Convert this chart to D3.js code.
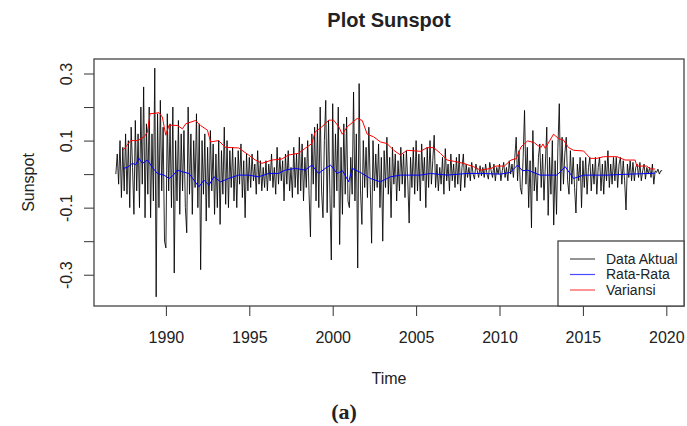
<!DOCTYPE html>
<html><head><meta charset="utf-8">
<script src="https://cdn.jsdelivr.net/npm/d3@7"></script>
<style>body{margin:0;background:#fff}svg{display:block}text{font-family:"Liberation Sans",Arial,sans-serif;fill:#222}</style>
</head><body><svg id="c" width="687" height="426"></svg>
<script>
const startYear = 1987;
const actual = [
0.0,0.06,-0.03,0.1,-0.07,0.08,-0.05,0.12,-0.06,0.1,-0.1,0.14,
0.02,-0.12,0.16,-0.05,0.12,-0.1,0.2,-0.03,0.26,-0.13,0.15,-0.06,
0.2,-0.13,0.12,-0.08,0.316,-0.366,0.18,-0.1,0.22,-0.05,0.14,-0.2,
-0.22,0.18,-0.05,0.15,-0.1,0.2,-0.295,0.1,-0.08,0.16,-0.12,0.12,
-0.05,0.13,-0.1,-0.175,0.2,-0.06,0.12,-0.12,0.1,-0.04,0.18,-0.1,
0.15,-0.285,0.1,-0.06,0.12,-0.14,0.08,-0.1,0.13,-0.05,0.09,-0.12,
0.06,-0.1,0.1,-0.15,0.07,-0.06,0.14,-0.09,0.1,-0.1,0.07,-0.04,
0.08,-0.08,0.05,-0.1,0.07,-0.03,0.09,-0.07,0.04,-0.13,0.06,-0.05,
0.05,-0.04,0.06,-0.02,0.03,-0.06,0.07,-0.03,0.04,-0.05,0.02,-0.04,
0.04,-0.05,0.03,-0.02,0.06,-0.04,0.02,-0.06,0.08,-0.03,0.05,-0.02,
0.04,-0.08,0.06,-0.03,0.07,-0.05,0.02,-0.07,0.08,-0.04,0.06,-0.06,
0.11,-0.05,0.09,-0.08,0.05,-0.04,0.1,-0.06,-0.187,0.12,-0.03,0.14,
-0.08,0.15,-0.1,0.2,-0.05,-0.13,0.1,0.22,-0.115,0.16,-0.06,-0.256,
0.21,-0.1,0.12,-0.05,0.2,-0.21,0.08,-0.12,0.15,-0.06,0.17,-0.08,
-0.1,0.05,-0.06,0.245,-0.08,0.12,-0.28,0.27,-0.05,-0.15,0.1,-0.04,
0.08,-0.07,0.14,-0.03,-0.206,0.1,-0.05,0.06,-0.04,0.09,-0.1,0.05,
-0.2,0.07,-0.04,0.11,-0.06,0.05,-0.13,0.08,-0.03,0.06,-0.08,0.04,
-0.05,0.08,-0.03,0.06,-0.07,0.07,-0.02,-0.146,0.05,-0.04,0.08,-0.06,
0.1,-0.05,0.06,-0.08,0.09,-0.02,0.05,-0.1,0.08,-0.04,0.1,-0.03,
0.04,0.116,-0.04,0.03,-0.05,0.02,-0.03,0.05,-0.06,0.076,-0.02,0.03,
-0.05,0.06,-0.02,0.03,-0.04,0.05,-0.03,0.06,-0.05,0.02,0.06,-0.04,
0.03,-0.01,0.02,-0.02,0.035,0.0,-0.015,0.03,0.01,-0.01,0.025,-0.005,
0.02,-0.01,0.03,0.0,-0.015,0.035,0.01,-0.01,0.03,-0.02,0.02,0.0,
0.03,-0.02,0.01,0.035,-0.01,0.02,-0.02,0.04,0.0,0.03,-0.01,0.05,
0.11,-0.02,0.07,-0.04,-0.06,0.05,0.19,-0.03,0.08,-0.1,0.04,-0.16,
0.13,-0.05,0.02,-0.08,0.05,0.09,-0.04,0.06,-0.078,0.03,0.14,-0.123,
0.05,-0.06,0.1,-0.152,0.04,-0.12,0.08,0.21,-0.05,0.11,-0.03,0.06,
0.11,-0.02,-0.06,0.07,-0.03,0.05,-0.04,-0.116,0.03,-0.02,0.05,-0.1,
0.04,-0.04,0.05,-0.06,0.02,0.05,-0.05,0.03,-0.03,0.05,-0.06,0.02,
0.05,-0.05,0.03,-0.06,0.04,-0.02,0.07,-0.04,0.03,-0.03,0.05,-0.02,
0.05,-0.04,0.03,0.05,-0.03,0.04,-0.02,-0.107,0.03,-0.01,0.04,-0.02,
0.035,-0.02,0.02,0.03,-0.01,0.035,-0.02,0.01,0.03,-0.015,0.02,0.0,
0.02,-0.01,0.03,-0.03,0.01,0.005,0.015,0.0,0.01,0.01
];
// Rata-Rata (mean) : [time, value]
const meanTimes = [1987.43,1987.69,1987.99,1988.19,1988.39,1988.59,1988.89,1989.19,1989.49,1989.89,1990.19,1990.41,1990.69,1990.99,1991.38,1991.68,1991.98,1992.28,1992.58,1992.88,1993.28,1993.76,1994.36,1994.96,1995.56,1996.16,1996.75,1997.16,1997.75,1998.35,1998.75,1999.15,1999.55,1999.87,2000.27,2000.59,2000.96,2001.17,2001.66,2002.26,2002.86,2003.46,2004.06,2005.26,2005.86,2006.86,2008.05,2008.85,2010.05,2010.65,2011.08,2011.37,2011.68,2012.44,2013.44,2013.94,2014.44,2015.04,2016.44,2017.83,2019.03,2019.33];
const meanValues = [0.017,0.02,0.032,0.028,0.047,0.032,0.042,0.02,0.002,-0.003,-0.013,-0.005,0.012,0.007,0.002,-0.018,-0.038,-0.018,-0.033,-0.008,-0.023,-0.013,-0.003,-0.003,-0.008,0.002,0.002,0.012,0.017,0.012,0.027,0.002,0.017,0.027,0.002,0.01,-0.023,0.017,0.005,-0.013,-0.023,-0.008,-0.003,-0.003,0.002,-0.003,0.002,0.002,0.0,0.005,0.027,0.01,0.012,-0.003,-0.003,0.022,-0.013,-0.003,-0.003,0.0,0.002,0.003];
// Variansi : [time, value]
const varTimes = [1987.43,1987.89,1988.29,1988.69,1988.89,1989.05,1989.59,1989.79,1989.99,1990.19,1990.69,1990.99,1991.19,1991.78,1992.08,1992.49,1992.68,1993.16,1993.56,1994.36,1994.96,1995.36,1995.75,1996.35,1996.95,1997.35,1997.95,1998.35,1998.75,1998.95,1999.35,1999.77,2000.05,2000.37,2000.57,2000.87,2001.47,2001.77,2002.07,2002.46,2002.86,2003.26,2003.66,2004.06,2004.46,2005.26,2005.66,2006.05,2006.46,2006.86,2007.29,2007.85,2008.45,2008.85,2009.49,2009.79,2010.29,2010.69,2011.0,2011.29,2011.68,2012.08,2012.3,2012.5,2012.6,2012.74,2013.24,2013.54,2013.84,2014.14,2014.44,2015.04,2015.44,2015.84,2016.24,2017.04,2017.53,2018.13,2018.23,2018.83,2019.03,2019.33];
const varValues = [0.071,0.1,0.1,0.111,0.125,0.18,0.183,0.17,0.116,0.146,0.145,0.135,0.15,0.16,0.145,0.131,0.096,0.1,0.08,0.078,0.057,0.042,0.032,0.042,0.045,0.057,0.062,0.077,0.091,0.126,0.141,0.161,0.161,0.141,0.119,0.141,0.166,0.16,0.119,0.111,0.096,0.091,0.071,0.057,0.071,0.068,0.079,0.079,0.062,0.042,0.038,0.032,0.022,0.012,0.017,0.024,0.024,0.042,0.046,0.081,0.099,0.094,0.085,0.08,0.09,0.077,0.119,0.106,0.101,0.079,0.071,0.069,0.047,0.047,0.052,0.052,0.042,0.042,0.024,0.024,0.016,0.015];
const xTicks = [1990,1995,2000,2005,2010,2015,2020];
const yTicks = [-0.3,-0.2,-0.1,0.0,0.1,0.2,0.3];
const yLabels = [-0.3,-0.1,0.1,0.3];
const legendItems = ["Data Aktual","Rata-Rata","Variansi"];
const legendColors = ["#000","#00f","#f00"];

const svg = d3.select("#c");
const L=94,R=684,T=59,B=306;
const actualData = actual.map((v,i)=>({t:startYear+i/12,v}));
const meanData = meanTimes.map((t,i)=>({t,v:meanValues[i]}));
const varData = varTimes.map((t,i)=>({t,v:varValues[i]}));
const tx = d3.extent(actualData,d=>d.t), vy = d3.extent(actualData,d=>d.v);
const px=(tx[1]-tx[0])*0.04, py=(vy[1]-vy[0])*0.04;
const x = d3.scaleLinear().domain([tx[0]-px,tx[1]+px]).range([L,R]);
const y = d3.scaleLinear().domain([vy[0]-py,vy[1]+py]).range([B,T]);
const line = d3.line().x(d=>x(d.t)).y(d=>y(d.v));

svg.append("rect").attr("width",687).attr("height",426).attr("fill","#fff");
const g = svg.append("g");
g.append("path").datum(actualData).attr("d",line).attr("fill","none").attr("stroke","#000").attr("stroke-width",0.85);
g.append("path").datum(meanData).attr("d",line).attr("fill","none").attr("stroke","#00f").attr("stroke-width",1);
g.append("path").datum(varData).attr("d",line).attr("fill","none").attr("stroke","#f00").attr("stroke-width",1);

// axes
const xa = svg.append("g").attr("transform",`translate(0,${B})`)
  .call(d3.axisBottom(x).tickValues(xTicks).tickFormat(d3.format("d")).tickSize(10).tickSizeOuter(0));
xa.select(".domain").remove();
xa.selectAll("line").attr("stroke","#333");
xa.selectAll("text").attr("dy",null).attr("y",37).attr("font-size",16).attr("fill","#222").attr("font-family",'"Liberation Sans",Arial,sans-serif');
const ya = svg.append("g").attr("transform",`translate(${L},0)`)
  .call(d3.axisLeft(y).tickValues(yTicks).tickFormat(d=>yLabels.some(l=>Math.abs(l-d)<1e-9)?d3.format(".1f")(d).replace("−","-"):"").tickSize(10).tickSizeOuter(0));
ya.select(".domain").remove();
ya.selectAll("line").attr("stroke","#333");
ya.selectAll("text").attr("x",null).attr("dy",null).attr("text-anchor","middle")
  .attr("transform","translate(-28,0) rotate(-90)").attr("dy","0.35em").attr("font-size",16).attr("fill","#222").attr("font-family",'"Liberation Sans",Arial,sans-serif');

svg.append("rect").attr("x",L).attr("y",T).attr("width",R-L).attr("height",B-T).attr("fill","none").attr("stroke","#444").attr("stroke-width",1.3);

// legend
const lg = svg.append("g");
lg.append("rect").attr("x",558).attr("y",241).attr("width",R-558).attr("height",B-241).attr("fill","#fff").attr("stroke","#444").attr("stroke-width",1.3);
legendItems.forEach((s,i)=>{
  const yy = 259 + i*15.5;
  lg.append("line").attr("x1",570).attr("x2",595).attr("y1",yy).attr("y2",yy).attr("stroke",legendColors[i]).attr("stroke-width",1.2).attr("stroke-opacity",0.7);
  lg.append("text").attr("x",606).attr("y",yy).attr("dy","0.35em").attr("font-size",14).text(s);
});

svg.append("text").attr("x",(L+R)/2).attr("y",20).attr("dy","0.35em").attr("text-anchor","middle").attr("font-size",20).attr("font-weight","bold").attr("fill","#000").text("Plot Sunspot");
svg.append("text").attr("x",(L+R)/2).attr("y",378).attr("dy","0.35em").attr("text-anchor","middle").attr("font-size",16).text("Time");
svg.append("text").attr("transform",`translate(28,${(T+B)/2}) rotate(-90)`).attr("dy","0.35em").attr("text-anchor","middle").attr("font-size",16).text("Sunspot");
svg.append("text").attr("x",344).attr("y",411).attr("dy","0.35em").attr("text-anchor","middle").attr("font-size",22).attr("font-weight","bold").style("font-family",'"Liberation Serif","Times New Roman",serif').attr("fill","#000").text("(a)");
</script></body></html>
